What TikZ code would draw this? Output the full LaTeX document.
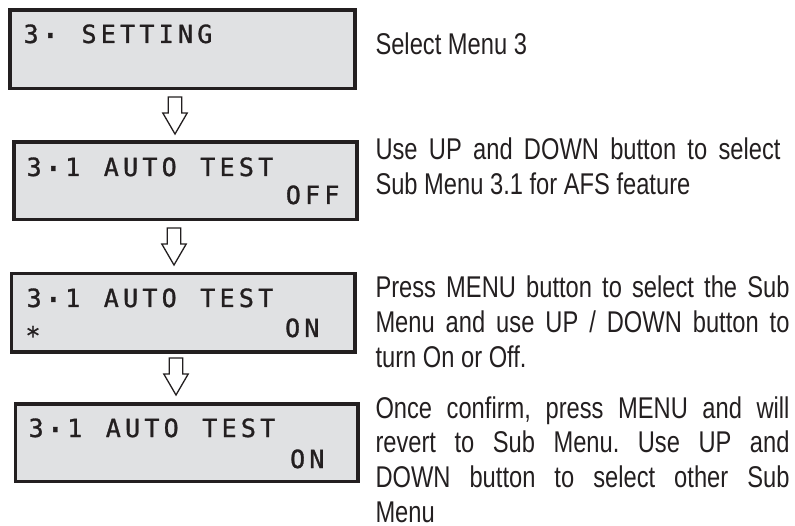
\documentclass[tikz,border=0pt]{standalone}
\usepackage{fontspec}
\setmainfont{Liberation Sans}[FakeStretch=0.79]
\newfontfamily\lcdfont{DejaVu Sans Mono}[FakeBold=1.2]
\usetikzlibrary{calc}
\frenchspacing
\definecolor{lcdfill}{RGB}{224,225,227}
\definecolor{inkcol}{RGB}{35,31,32}
\newcommand\lcdcells[1]{\lcdcellsaux#1\relax}
\def\lcdcellsaux#1{\ifx#1\relax\else\makebox[19.3pt][c]{#1}\expandafter\lcdcellsaux\fi}
\newcommand\lcddot{\raisebox{-4pt}{\fontsize{33}{33}\selectfont·}}
\newcommand\jline[1]{\noindent\makebox[\linewidth][s]{#1}\par}
\newcommand\lline[1]{\noindent #1\par}
\tikzset{
  lcd/.style={draw=inkcol, line width=3.6pt, fill=lcdfill, inner sep=0pt, outer sep=0pt},
  lcdtext/.style={inner sep=0pt, outer sep=0pt, text=inkcol, font=\lcdfont\fontsize{25}{25}\selectfont},
  desc/.style={inner sep=0pt, outer sep=0pt, anchor=base west, text=inkcol, font=\fontsize{30}{34.8}\selectfont},
  arrowline/.style={draw=inkcol, line width=1.3pt, fill=white, line join=miter},
  downarrow/.pic={\draw[arrowline] (-6.7,0) -- (6.7,0) -- (6.7,16) -- (12.2,16) -- (0,37) -- (-12.2,16) -- (-6.7,16) -- cycle;}
}
\begin{document}
\begin{tikzpicture}[x=1pt,y=-1pt]
\useasboundingbox (0,0) rectangle (795,526);
% LCD boxes
\node[lcd, minimum width=344.7pt, minimum height=78.9pt, anchor=north west] (b1) at (10,9.8) {};
\node[lcd, minimum width=343.3pt, minimum height=77.5pt, anchor=north west] (b2) at (13.7,142) {};
\node[lcd, minimum width=343.4pt, minimum height=78.3pt, anchor=north west] (b3) at (11.3,273.7) {};
\node[lcd, minimum width=342.7pt, minimum height=77.8pt, anchor=north west] (b4) at (15.3,403.7) {};
% LCD texts
\node[lcdtext, anchor=base west] (l1a) at (21.5,43) {\lcdcells{3\lcddot~SETTING}};
\node[lcdtext, anchor=base west] (l2a) at (24.5,176) {\lcdcells{3\lcddot1~AUTO~TEST}};
\node[lcdtext, anchor=base east] (l2b) at (341.6,204) {\lcdcells{OFF}};
\node[lcdtext, anchor=base west] (l3a) at (24.5,307) {\lcdcells{3\lcddot1~AUTO~TEST}};
\node[lcdtext, anchor=base] (l3s) at (33,344.5) {*};
\node[lcdtext, anchor=base east] (l3b) at (321.6,337) {\lcdcells{ON}};
\node[lcdtext, anchor=base west] (l4a) at (26.5,437) {\lcdcells{3\lcddot1~AUTO~TEST}};
\node[lcdtext, anchor=base east] (l4b) at (326.6,468) {\lcdcells{ON}};
% arrows
\pic at ($(b1.south west)+(165,8.3)$) {downarrow};
\pic at ($(b2.south west)+(160.3,8.5)$) {downarrow};
\pic at ($(b3.south west)+(164.7,6)$) {downarrow};
% descriptions
\node[desc] (t1) at (375.5,55) {Select Menu 3};
\node[desc] (t2) at (375.5,160) {\parbox[t]{405pt}{\setlength\parskip{0pt}%
\jline{Use UP and DOWN button to select}%
\lline{Sub Menu 3.1 for AFS feature}}};
\node[desc] (t3) at (375.5,298) {\parbox[t]{414pt}{\setlength\parskip{0pt}%
\jline{Press MENU button to select the Sub}%
\jline{Menu and use UP / DOWN button to}%
\lline{turn On or Off.}}};
\node[desc] (t4) at (375.5,418) {\parbox[t]{414pt}{\setlength\parskip{0pt}%
\jline{Once confirm, press MENU and will}%
\jline{revert to Sub Menu. Use UP and}%
\jline{DOWN button to select other Sub}%
\lline{Menu}}};
\end{tikzpicture}
\end{document}
